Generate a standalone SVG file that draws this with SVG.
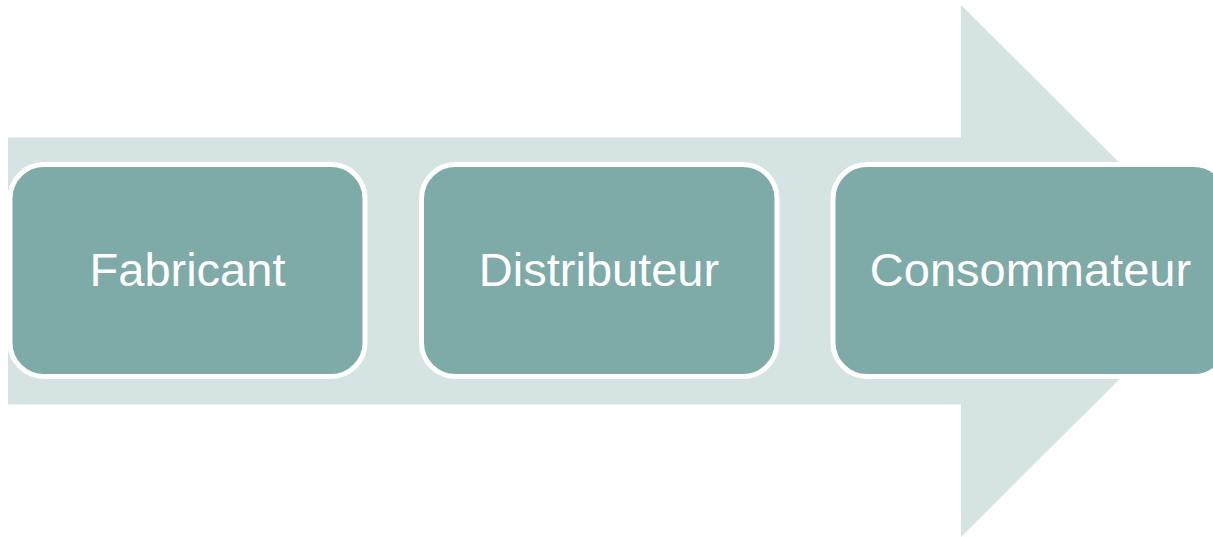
<svg xmlns="http://www.w3.org/2000/svg" width="1213" height="537" viewBox="0 0 1213 537">
<style>
.box{fill:#7EAAA8;stroke:#FFFFFF;stroke-width:5}
.lbl{font-family:"Liberation Sans",Arial,sans-serif;font-size:47px;fill:#FFFFFF;text-anchor:middle}
</style>
<rect width="1213" height="537" fill="#FFFFFF"/>
<g id="arrow">
<polygon points="8,137.5 961,137.5 961,5 1228,271 961,537 961,404.5 8,404.5" fill="#D6E3E3"/>
</g>
<g id="connectors"/>
<g id="fabricant">
<rect class="box" x="10" y="164.5" width="355" height="212" rx="34" ry="34"/>
<text class="lbl" x="187.5" y="286">Fabricant</text>
</g>
<g id="distributeur">
<rect class="box" x="421.5" y="164.5" width="355.5" height="212" rx="34" ry="34"/>
<text class="lbl" x="599" y="286">Distributeur</text>
</g>
<g id="consommateur">
<rect class="box" x="833" y="164.5" width="395" height="212" rx="34" ry="34"/>
<text class="lbl" x="1030.5" y="286">Consommateur</text>
</g>
</svg>
